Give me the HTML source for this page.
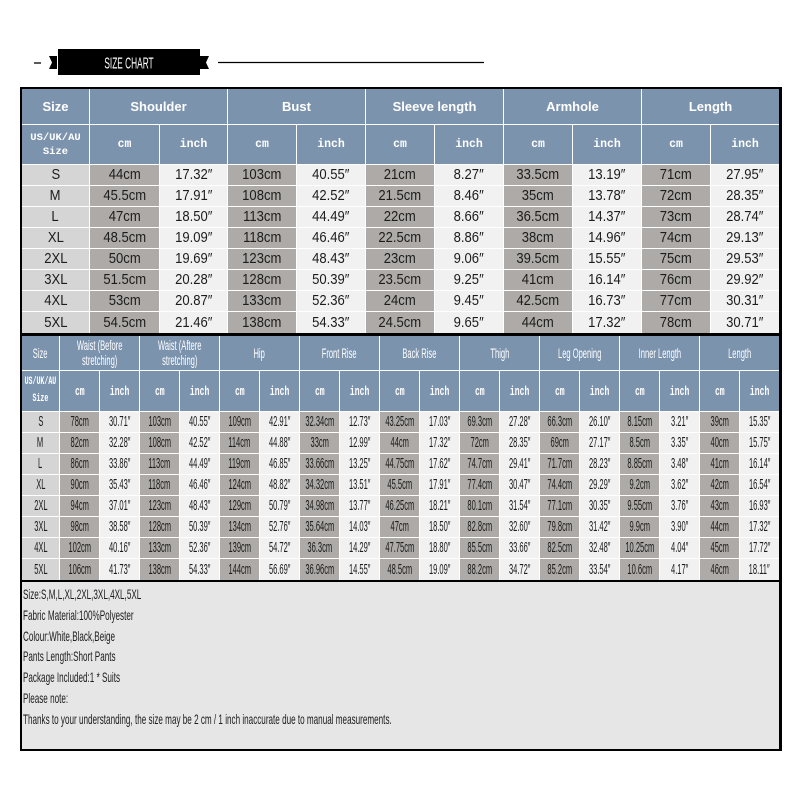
<!DOCTYPE html>
<html><head><meta charset="utf-8">
<style>
*{margin:0;padding:0;box-sizing:border-box}
body{width:800px;height:800px;background:#fff;position:relative;overflow:hidden;font-family:"Liberation Sans",sans-serif}
.wrap{position:absolute;left:20px;top:87px;width:762px;height:664px;background:#000}
.g{position:absolute;left:2px;width:757px;height:244px;display:grid;gap:1px;background:#fff}
.t1{top:2px;grid-template-columns:67px 69px 67px 68px 68px 68px 68px 68px 68px 68px 68px;grid-template-rows:35px 39px 20px 20px 20px 20px 20px 20px 20px 21px}
.t2{top:249px;grid-template-columns:37px repeat(18,39px);grid-template-rows:34px 40px 20px 20px 20px 20px 20px 20px 20px 21px}
.g>div{display:flex;align-items:center;justify-content:center;overflow:visible;white-space:nowrap}
.h{background:#7c93ae;color:#fff}
.s2{grid-column:span 2}
.sz{background:#d5d5d5}
.cm{background:#adaaa7}
.in{background:#f1f1f1}
.t1 .h1{font-weight:bold;font-size:13px}
.t1 .h2{font-family:"Liberation Mono",monospace;font-weight:bold;font-size:11.5px}
.t1 .us{font-family:"Liberation Mono",monospace;font-weight:bold;font-size:10.5px;line-height:14px;text-align:center;white-space:normal}
.t1 .d{font-size:14.5px;color:#1c1c1c}
.t1 .d span{display:inline-block;transform:scaleX(.9);flex-shrink:0}
.t2 span{display:inline-block;flex-shrink:0;white-space:nowrap}
.t2 .h1 span{font-size:13.5px;transform:scaleX(.56);text-align:center;line-height:15px}
.t2 .h2 span{font-family:"Liberation Mono",monospace;font-weight:bold;font-size:13px;transform:scaleX(.62)}
.t2 .us span{font-family:"Liberation Mono",monospace;font-weight:bold;font-size:11px;transform:scaleX(.6);line-height:17px;text-align:center}
.t2 .d span{font-size:14.5px;color:#1c1c1c;transform:scaleX(.52)}
.foot{position:absolute;left:2px;top:495px;width:757px;height:167px;background:#e6e6e6;overflow:hidden}
.foot div{font-size:14px;line-height:20.8px;color:#1c1c1c;transform:scaleX(.58);transform-origin:0 0;white-space:nowrap;width:1200px}
.foot .inner{padding-top:2px;padding-left:1px;transform:none;width:auto}
</style></head><body>
<svg width="800" height="90" style="position:absolute;left:0;top:0">
<line x1="34" y1="63" x2="41" y2="63" stroke="#000" stroke-width="1.3"/>
<polygon points="49,56 57,56 57,69 49,69 52,62.5" fill="#000"/>
<rect x="58" y="49" width="142" height="26" fill="#000"/>
<polygon points="200,56 209,56 206,62.5 209,69 200,69" fill="#000"/>
<line x1="218" y1="62.5" x2="484" y2="62.5" stroke="#000" stroke-width="1.3"/>
<text x="129" y="68.5" fill="#fff" font-family="Liberation Sans" font-size="16" text-anchor="middle" transform="translate(129 0) scale(.52 1) translate(-129 0)">SIZE CHART</text>
</svg>
<div class="wrap">
<div class="g t1">
<div class="h h1">Size</div><div class="h h1 s2">Shoulder</div><div class="h h1 s2">Bust</div><div class="h h1 s2">Sleeve length</div><div class="h h1 s2">Armhole</div><div class="h h1 s2">Length</div>
<div class="h us">US/UK/AU<br>Size</div><div class="h h2">cm</div><div class="h h2">inch</div><div class="h h2">cm</div><div class="h h2">inch</div><div class="h h2">cm</div><div class="h h2">inch</div><div class="h h2">cm</div><div class="h h2">inch</div><div class="h h2">cm</div><div class="h h2">inch</div>
<div class="d sz"><span>S</span></div><div class="d cm"><span>44cm</span></div><div class="d in"><span>17.32″</span></div><div class="d cm"><span>103cm</span></div><div class="d in"><span>40.55″</span></div><div class="d cm"><span>21cm</span></div><div class="d in"><span>8.27″</span></div><div class="d cm"><span>33.5cm</span></div><div class="d in"><span>13.19″</span></div><div class="d cm"><span>71cm</span></div><div class="d in"><span>27.95″</span></div>
<div class="d sz"><span>M</span></div><div class="d cm"><span>45.5cm</span></div><div class="d in"><span>17.91″</span></div><div class="d cm"><span>108cm</span></div><div class="d in"><span>42.52″</span></div><div class="d cm"><span>21.5cm</span></div><div class="d in"><span>8.46″</span></div><div class="d cm"><span>35cm</span></div><div class="d in"><span>13.78″</span></div><div class="d cm"><span>72cm</span></div><div class="d in"><span>28.35″</span></div>
<div class="d sz"><span>L</span></div><div class="d cm"><span>47cm</span></div><div class="d in"><span>18.50″</span></div><div class="d cm"><span>113cm</span></div><div class="d in"><span>44.49″</span></div><div class="d cm"><span>22cm</span></div><div class="d in"><span>8.66″</span></div><div class="d cm"><span>36.5cm</span></div><div class="d in"><span>14.37″</span></div><div class="d cm"><span>73cm</span></div><div class="d in"><span>28.74″</span></div>
<div class="d sz"><span>XL</span></div><div class="d cm"><span>48.5cm</span></div><div class="d in"><span>19.09″</span></div><div class="d cm"><span>118cm</span></div><div class="d in"><span>46.46″</span></div><div class="d cm"><span>22.5cm</span></div><div class="d in"><span>8.86″</span></div><div class="d cm"><span>38cm</span></div><div class="d in"><span>14.96″</span></div><div class="d cm"><span>74cm</span></div><div class="d in"><span>29.13″</span></div>
<div class="d sz"><span>2XL</span></div><div class="d cm"><span>50cm</span></div><div class="d in"><span>19.69″</span></div><div class="d cm"><span>123cm</span></div><div class="d in"><span>48.43″</span></div><div class="d cm"><span>23cm</span></div><div class="d in"><span>9.06″</span></div><div class="d cm"><span>39.5cm</span></div><div class="d in"><span>15.55″</span></div><div class="d cm"><span>75cm</span></div><div class="d in"><span>29.53″</span></div>
<div class="d sz"><span>3XL</span></div><div class="d cm"><span>51.5cm</span></div><div class="d in"><span>20.28″</span></div><div class="d cm"><span>128cm</span></div><div class="d in"><span>50.39″</span></div><div class="d cm"><span>23.5cm</span></div><div class="d in"><span>9.25″</span></div><div class="d cm"><span>41cm</span></div><div class="d in"><span>16.14″</span></div><div class="d cm"><span>76cm</span></div><div class="d in"><span>29.92″</span></div>
<div class="d sz"><span>4XL</span></div><div class="d cm"><span>53cm</span></div><div class="d in"><span>20.87″</span></div><div class="d cm"><span>133cm</span></div><div class="d in"><span>52.36″</span></div><div class="d cm"><span>24cm</span></div><div class="d in"><span>9.45″</span></div><div class="d cm"><span>42.5cm</span></div><div class="d in"><span>16.73″</span></div><div class="d cm"><span>77cm</span></div><div class="d in"><span>30.31″</span></div>
<div class="d sz"><span>5XL</span></div><div class="d cm"><span>54.5cm</span></div><div class="d in"><span>21.46″</span></div><div class="d cm"><span>138cm</span></div><div class="d in"><span>54.33″</span></div><div class="d cm"><span>24.5cm</span></div><div class="d in"><span>9.65″</span></div><div class="d cm"><span>44cm</span></div><div class="d in"><span>17.32″</span></div><div class="d cm"><span>78cm</span></div><div class="d in"><span>30.71″</span></div>
</div>

<div class="g t2">
<div class="h h1"><span>Size</span></div><div class="h h1 s2"><span>Waist (Before<br>stretching)</span></div><div class="h h1 s2"><span>Waist (Aftere<br>stretching)</span></div><div class="h h1 s2"><span>Hip</span></div><div class="h h1 s2"><span>Front Rise</span></div><div class="h h1 s2"><span>Back Rise</span></div><div class="h h1 s2"><span>Thigh</span></div><div class="h h1 s2"><span>Leg Opening</span></div><div class="h h1 s2"><span>Inner Length</span></div><div class="h h1 s2"><span>Length</span></div>
<div class="h us"><span>US/UK/AU<br>Size</span></div><div class="h h2"><span>cm</span></div><div class="h h2"><span>inch</span></div><div class="h h2"><span>cm</span></div><div class="h h2"><span>inch</span></div><div class="h h2"><span>cm</span></div><div class="h h2"><span>inch</span></div><div class="h h2"><span>cm</span></div><div class="h h2"><span>inch</span></div><div class="h h2"><span>cm</span></div><div class="h h2"><span>inch</span></div><div class="h h2"><span>cm</span></div><div class="h h2"><span>inch</span></div><div class="h h2"><span>cm</span></div><div class="h h2"><span>inch</span></div><div class="h h2"><span>cm</span></div><div class="h h2"><span>inch</span></div><div class="h h2"><span>cm</span></div><div class="h h2"><span>inch</span></div>
<div class="d sz"><span>S</span></div><div class="d cm"><span>78cm</span></div><div class="d in"><span>30.71″</span></div><div class="d cm"><span>103cm</span></div><div class="d in"><span>40.55″</span></div><div class="d cm"><span>109cm</span></div><div class="d in"><span>42.91″</span></div><div class="d cm"><span>32.34cm</span></div><div class="d in"><span>12.73″</span></div><div class="d cm"><span>43.25cm</span></div><div class="d in"><span>17.03″</span></div><div class="d cm"><span>69.3cm</span></div><div class="d in"><span>27.28″</span></div><div class="d cm"><span>66.3cm</span></div><div class="d in"><span>26.10″</span></div><div class="d cm"><span>8.15cm</span></div><div class="d in"><span>3.21″</span></div><div class="d cm"><span>39cm</span></div><div class="d in"><span>15.35″</span></div>
<div class="d sz"><span>M</span></div><div class="d cm"><span>82cm</span></div><div class="d in"><span>32.28″</span></div><div class="d cm"><span>108cm</span></div><div class="d in"><span>42.52″</span></div><div class="d cm"><span>114cm</span></div><div class="d in"><span>44.88″</span></div><div class="d cm"><span>33cm</span></div><div class="d in"><span>12.99″</span></div><div class="d cm"><span>44cm</span></div><div class="d in"><span>17.32″</span></div><div class="d cm"><span>72cm</span></div><div class="d in"><span>28.35″</span></div><div class="d cm"><span>69cm</span></div><div class="d in"><span>27.17″</span></div><div class="d cm"><span>8.5cm</span></div><div class="d in"><span>3.35″</span></div><div class="d cm"><span>40cm</span></div><div class="d in"><span>15.75″</span></div>
<div class="d sz"><span>L</span></div><div class="d cm"><span>86cm</span></div><div class="d in"><span>33.86″</span></div><div class="d cm"><span>113cm</span></div><div class="d in"><span>44.49″</span></div><div class="d cm"><span>119cm</span></div><div class="d in"><span>46.85″</span></div><div class="d cm"><span>33.66cm</span></div><div class="d in"><span>13.25″</span></div><div class="d cm"><span>44.75cm</span></div><div class="d in"><span>17.62″</span></div><div class="d cm"><span>74.7cm</span></div><div class="d in"><span>29.41″</span></div><div class="d cm"><span>71.7cm</span></div><div class="d in"><span>28.23″</span></div><div class="d cm"><span>8.85cm</span></div><div class="d in"><span>3.48″</span></div><div class="d cm"><span>41cm</span></div><div class="d in"><span>16.14″</span></div>
<div class="d sz"><span>XL</span></div><div class="d cm"><span>90cm</span></div><div class="d in"><span>35.43″</span></div><div class="d cm"><span>118cm</span></div><div class="d in"><span>46.46″</span></div><div class="d cm"><span>124cm</span></div><div class="d in"><span>48.82″</span></div><div class="d cm"><span>34.32cm</span></div><div class="d in"><span>13.51″</span></div><div class="d cm"><span>45.5cm</span></div><div class="d in"><span>17.91″</span></div><div class="d cm"><span>77.4cm</span></div><div class="d in"><span>30.47″</span></div><div class="d cm"><span>74.4cm</span></div><div class="d in"><span>29.29″</span></div><div class="d cm"><span>9.2cm</span></div><div class="d in"><span>3.62″</span></div><div class="d cm"><span>42cm</span></div><div class="d in"><span>16.54″</span></div>
<div class="d sz"><span>2XL</span></div><div class="d cm"><span>94cm</span></div><div class="d in"><span>37.01″</span></div><div class="d cm"><span>123cm</span></div><div class="d in"><span>48.43″</span></div><div class="d cm"><span>129cm</span></div><div class="d in"><span>50.79″</span></div><div class="d cm"><span>34.98cm</span></div><div class="d in"><span>13.77″</span></div><div class="d cm"><span>46.25cm</span></div><div class="d in"><span>18.21″</span></div><div class="d cm"><span>80.1cm</span></div><div class="d in"><span>31.54″</span></div><div class="d cm"><span>77.1cm</span></div><div class="d in"><span>30.35″</span></div><div class="d cm"><span>9.55cm</span></div><div class="d in"><span>3.76″</span></div><div class="d cm"><span>43cm</span></div><div class="d in"><span>16.93″</span></div>
<div class="d sz"><span>3XL</span></div><div class="d cm"><span>98cm</span></div><div class="d in"><span>38.58″</span></div><div class="d cm"><span>128cm</span></div><div class="d in"><span>50.39″</span></div><div class="d cm"><span>134cm</span></div><div class="d in"><span>52.76″</span></div><div class="d cm"><span>35.64cm</span></div><div class="d in"><span>14.03″</span></div><div class="d cm"><span>47cm</span></div><div class="d in"><span>18.50″</span></div><div class="d cm"><span>82.8cm</span></div><div class="d in"><span>32.60″</span></div><div class="d cm"><span>79.8cm</span></div><div class="d in"><span>31.42″</span></div><div class="d cm"><span>9.9cm</span></div><div class="d in"><span>3.90″</span></div><div class="d cm"><span>44cm</span></div><div class="d in"><span>17.32″</span></div>
<div class="d sz"><span>4XL</span></div><div class="d cm"><span>102cm</span></div><div class="d in"><span>40.16″</span></div><div class="d cm"><span>133cm</span></div><div class="d in"><span>52.36″</span></div><div class="d cm"><span>139cm</span></div><div class="d in"><span>54.72″</span></div><div class="d cm"><span>36.3cm</span></div><div class="d in"><span>14.29″</span></div><div class="d cm"><span>47.75cm</span></div><div class="d in"><span>18.80″</span></div><div class="d cm"><span>85.5cm</span></div><div class="d in"><span>33.66″</span></div><div class="d cm"><span>82.5cm</span></div><div class="d in"><span>32.48″</span></div><div class="d cm"><span>10.25cm</span></div><div class="d in"><span>4.04″</span></div><div class="d cm"><span>45cm</span></div><div class="d in"><span>17.72″</span></div>
<div class="d sz"><span>5XL</span></div><div class="d cm"><span>106cm</span></div><div class="d in"><span>41.73″</span></div><div class="d cm"><span>138cm</span></div><div class="d in"><span>54.33″</span></div><div class="d cm"><span>144cm</span></div><div class="d in"><span>56.69″</span></div><div class="d cm"><span>36.96cm</span></div><div class="d in"><span>14.55″</span></div><div class="d cm"><span>48.5cm</span></div><div class="d in"><span>19.09″</span></div><div class="d cm"><span>88.2cm</span></div><div class="d in"><span>34.72″</span></div><div class="d cm"><span>85.2cm</span></div><div class="d in"><span>33.54″</span></div><div class="d cm"><span>10.6cm</span></div><div class="d in"><span>4.17″</span></div><div class="d cm"><span>46cm</span></div><div class="d in"><span>18.11″</span></div>
</div>

<div class="foot"><div class="inner">
<div>Size:S,M,L,XL,2XL,3XL,4XL,5XL</div>
<div>Fabric Material:100%Polyester</div>
<div>Colour:White,Black,Beige</div>
<div>Pants Length:Short Pants</div>
<div>Package Included:1 * Suits</div>
<div>Please note:</div>
<div>Thanks to your understanding, the size may be 2 cm / 1 inch inaccurate due to manual measurements.</div>
</div></div>
</div>
</body></html>
